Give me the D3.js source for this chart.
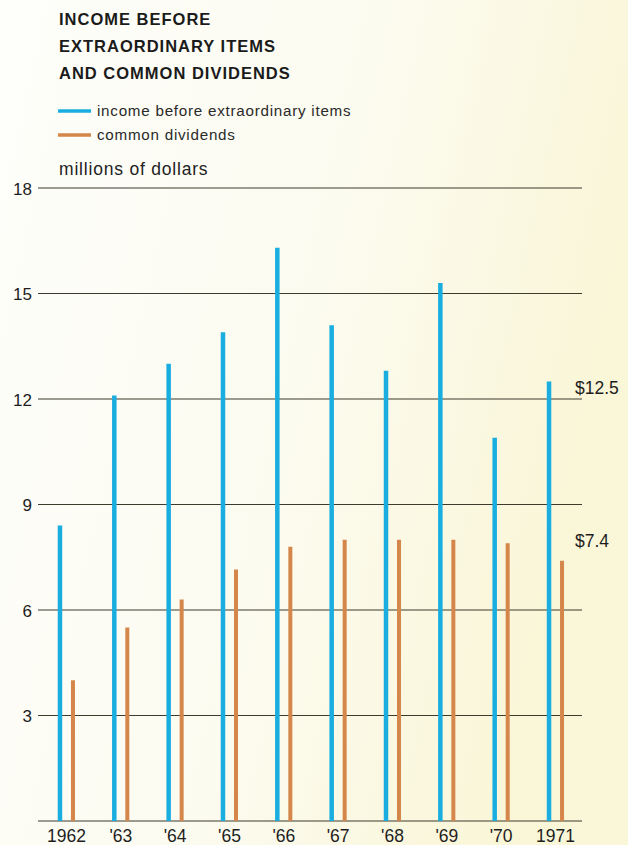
<!DOCTYPE html>
<html>
<head>
<meta charset="utf-8">
<script src="https://cdn.jsdelivr.net/npm/d3@7/dist/d3.min.js"></script>
<style>
  html, body { margin: 0; padding: 0; }
  body { width: 628px; height: 845px; overflow: hidden; }
  svg { display: block; font-family: "Liberation Sans", Arial, Helvetica, sans-serif; }
</style>
</head>
<body>
<svg id="chart" width="628" height="845"></svg>
<script>
// Fiscal years shown on the axis
const years = ["1962", "'63", "'64", "'65", "'66", "'67", "'68", "'69", "'70", "1971"];
// Income before extraordinary items, millions of dollars
const income = [8.4, 12.1, 13.0, 13.9, 16.3, 14.1, 12.8, 15.3, 10.9, 12.5];
// Common dividends, millions of dollars
const dividends = [4.0, 5.5, 6.3, 7.15, 7.8, 8.0, 8.0, 8.0, 7.9, 7.4];
// Value axis ticks
const yTicks = [0, 3, 6, 9, 12, 15, 18];
const tickLabels = ["", "3", "6", "9", "12", "15", "18"];
const titleLines = ["INCOME BEFORE", "EXTRAORDINARY ITEMS", "AND COMMON DIVIDENDS"];
const seriesNames = ["income before extraordinary items", "common dividends"];
const colors = ["#19ade0", "#d5864a"];

const svg = d3.select("#chart");
const font = "'Liberation Sans', Arial, Helvetica, sans-serif";

// paper background, slightly warmer towards the right
const defs = svg.append("defs");
const grad = defs.append("linearGradient").attr("id", "paper")
  .attr("x1", "0").attr("y1", "0").attr("x2", "1").attr("y2", "0.3");
grad.append("stop").attr("offset", "0").attr("stop-color", "#fefefb");
grad.append("stop").attr("offset", "0.55").attr("stop-color", "#fcfbf0");
grad.append("stop").attr("offset", "1").attr("stop-color", "#faf6d8");
svg.append("rect").attr("width", 628).attr("height", 845).attr("fill", "url(#paper)");

const left = 38, right = 582;
const y = d3.scaleLinear().domain([0, 18]).range([821, 188]);
const x = d3.scaleBand().domain(years).range([39.3, 582.7]).paddingInner(0).paddingOuter(0);
const sub = d3.scalePoint().domain(seriesNames).range([-6.5, 6.5]);
const cx = d => x(d) + x.bandwidth() / 2;

// title
svg.append("g").selectAll("text").data(titleLines).join("text")
  .attr("x", 59).attr("y", (d, i) => 25 + i * 27.2)
  .attr("font-size", 16.5).attr("letter-spacing", 1.0)
  .attr("font-weight", "bold").attr("fill", "#1b1b1b")
  .text(d => d);

// legend
const leg = svg.append("g").selectAll("g").data(seriesNames).join("g")
  .attr("transform", (d, i) => `translate(58, ${111 + i * 24})`);
leg.append("line").attr("x1", 0).attr("x2", 33).attr("y1", 0).attr("y2", 0)
  .attr("stroke", (d, i) => colors[i]).attr("stroke-width", 3.5);
leg.append("text").attr("x", 39).attr("y", 4.5).attr("font-size", 15.2)
  .attr("letter-spacing", 0.75).attr("fill", "#2a2a2a").text(d => d);

svg.append("text").attr("x", 59).attr("y", 175).attr("font-size", 17.5)
  .attr("letter-spacing", 0.8).attr("fill", "#222").text("millions of dollars");

// horizontal grid
const grid = svg.append("g");
grid.selectAll("line").data(yTicks).join("line")
  .attr("x1", left).attr("x2", right)
  .attr("y1", d => y(d)).attr("y2", d => y(d))
  .attr("stroke", "#3d3b2c").attr("stroke-width", 1.1);

// value axis labels
const yAxis = d3.axisLeft(y).tickValues(yTicks.slice(1))
  .tickFormat(d => tickLabels[yTicks.indexOf(d)]).tickSize(0).tickPadding(6);
svg.append("g").attr("transform", `translate(${left},0)`).call(yAxis)
  .call(g => g.select(".domain").remove())
  .call(g => g.selectAll("text").attr("font-size", 17).attr("fill", "#1e1e1e")
    .attr("font-family", font).attr("dy", "0.36em"));

// bars drawn as thick vertical strokes
const bars = svg.append("g");
bars.selectAll(".inc").data(years).join("line").attr("class", "inc")
  .attr("x1", d => cx(d) + sub(seriesNames[0])).attr("x2", d => cx(d) + sub(seriesNames[0]))
  .attr("y1", y(0)).attr("y2", (d, i) => y(income[i]))
  .attr("stroke", colors[0]).attr("stroke-width", 4.5);
bars.selectAll(".div").data(years).join("line").attr("class", "div")
  .attr("x1", d => cx(d) + sub(seriesNames[1])).attr("x2", d => cx(d) + sub(seriesNames[1]))
  .attr("y1", y(0)).attr("y2", (d, i) => y(dividends[i]))
  .attr("stroke", colors[1]).attr("stroke-width", 4);

// year axis
const xAxis = d3.axisBottom(x).tickSize(0).tickPadding(8);
svg.append("g").attr("transform", `translate(0,${y(0)})`).call(xAxis)
  .call(g => g.select(".domain").remove())
  .call(g => g.selectAll("text").attr("font-size", 17.5).attr("fill", "#1e1e1e")
    .attr("font-family", font).attr("dy", "0.72em"));

// end-of-series value labels
const last = years.length - 1;
svg.append("text").attr("x", 575).attr("y", y(income[last]) + 12.5).attr("font-size", 17.5)
  .attr("font-family", font).attr("fill", "#1e1e1e").text("$" + income[last].toFixed(1));
svg.append("text").attr("x", 575).attr("y", y(dividends[last]) - 14).attr("font-size", 17.5)
  .attr("font-family", font).attr("fill", "#1e1e1e").text("$" + dividends[last].toFixed(1));
</script>
</body>
</html>
